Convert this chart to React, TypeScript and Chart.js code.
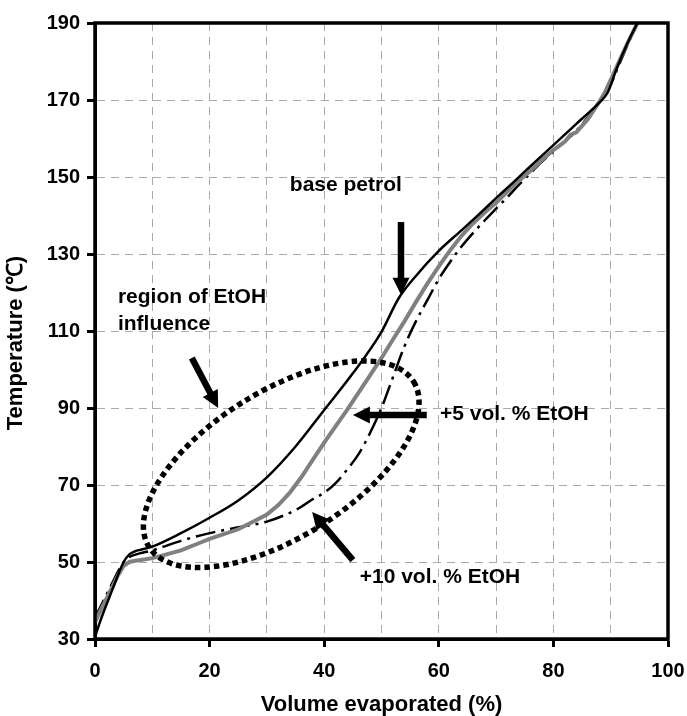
import React, { useEffect, useRef } from "react";
import { Chart, registerables } from "chart.js";

Chart.register(...registerables);

// ---- data ----
const baseVol = [0, 1, 3, 5, 6, 7, 8, 10, 15, 20, 25, 30, 35, 40, 45, 50, 53, 56, 60, 64, 67, 70, 73, 76, 80, 84, 88, 89.5, 91, 93, 95];
const baseTemp = [30.5, 35, 42.7, 50, 52, 52.8, 53.2, 54, 57.5, 61.5, 66, 72, 80, 89.5, 99, 109.8, 118.5, 124.3, 130.8, 136.2, 140.3, 144.5, 148.6, 152.8, 158.3, 163.8, 169.3, 172, 178, 185, 191];

const e5Vol = [0, 1, 2, 3, 4, 5, 6, 7, 8, 10, 12, 15, 18, 20, 25, 28, 30, 32, 34, 36, 38, 40, 42, 44, 46, 48, 50, 52, 54, 56, 58, 60, 62, 64, 66, 68, 70, 72, 74, 76, 78, 80, 82, 83, 84, 86, 88, 89, 91, 93, 95];
const e5Temp = [34.4, 37.5, 40.5, 43.5, 46.5, 49, 50, 50.3, 50.5, 51, 51.8, 53, 54.8, 56, 58.5, 60.8, 62.3, 64.8, 68, 72, 76.5, 81, 85.3, 89.5, 94, 98.5, 103, 107.8, 112.5, 117.5, 122.3, 126.8, 131, 134.8, 138, 140.8, 143.3, 146.2, 149, 151.6, 154.4, 157, 159.2, 161, 161.6, 165, 169.5, 172, 178.5, 185, 191];

const e10Vol = [0, 1, 2, 3, 4, 5, 6, 8, 10, 12, 15, 20, 25, 30, 35, 38, 40, 42, 44, 46, 48, 50, 52, 54, 56, 58, 60, 62, 64, 66, 68, 70, 72, 74, 76, 78, 80, 82, 84, 86, 88, 89, 90, 91, 93, 95];
const e10Temp = [35.5, 38.5, 41.5, 44.5, 47.5, 50, 51.3, 52.3, 53, 54, 55.5, 57.5, 59, 60.5, 63.5, 66.3, 68, 70.5, 74, 78, 83.5, 90, 98, 106, 112.5, 118, 123.5, 128, 132, 135.5, 138.7, 141.8, 144.8, 148, 151, 154, 156.6, 159.2, 162, 165.5, 169.5, 171.5, 174, 177.5, 184.5, 191];

const xTickStep = 10;
const xLabelStep = 20;
const yTicks = [30, 50, 70, 90, 110, 130, 150, 170, 190];

const xTitle = "Volume evaporated (%)";
const yTitle = "Temperature (\u2103)";

// annotation texts anchored in data coordinates (left edge, vertical middle)
const noteTexts = ["base petrol", "region of EtOH", "influence", "+5 vol. % EtOH", "+10 vol. % EtOH"];
const noteX = [34.0, 4.0, 4.0, 60.2, 46.2];
const noteY = [147.9, 118.8, 111.8, 88.4, 46.1];

// arrows (tail -> tip) in data coordinates
const arrowFromX = [53.4, 16.9, 57.9, 45.0];
const arrowFromY = [138.3, 103.0, 88.2, 50.5];
const arrowToX = [53.4, 21.5, 45.0, 37.9];
const arrowToY = [119.4, 90.0, 88.2, 63.0];

// dotted ellipse centre in data coordinates
const ellipseCenter = [32.5, 75.4];

const FONT = '"Liberation Sans", Arial, Helvetica, sans-serif';

function pts(xs: number[], ys: number[]) {
  return xs.map((x, i) => ({ x, y: ys[i] }));
}

const overlayPlugin = {
  id: "overlay",
  afterDatasetsDraw(chart: any) {
    const { ctx, chartArea: a, scales } = chart;
    const xs = scales.x;
    const ys = scales.y;
    const k = (a.right - a.left) / 573;

    // dotted ellipse
    ctx.save();
    ctx.beginPath();
    ctx.rect(a.left, a.top, a.right - a.left, a.bottom - a.top);
    ctx.clip();
    ctx.strokeStyle = "#000";
    ctx.lineWidth = 5.5;
    ctx.setLineDash([5.5, 4]);
    ctx.lineCap = "butt";
    ctx.beginPath();
    ctx.ellipse(
      xs.getPixelForValue(ellipseCenter[0]),
      ys.getPixelForValue(ellipseCenter[1]),
      156 * k,
      73 * k,
      (-32 * Math.PI) / 180,
      0,
      Math.PI * 2
    );
    ctx.stroke();
    ctx.restore();

    // arrows
    ctx.save();
    ctx.fillStyle = "#000";
    ctx.strokeStyle = "#000";
    ctx.setLineDash([]);
    for (let i = 0; i < arrowFromX.length; i++) {
      const x1 = xs.getPixelForValue(arrowFromX[i]);
      const y1 = ys.getPixelForValue(arrowFromY[i]);
      const x2 = xs.getPixelForValue(arrowToX[i]);
      const y2 = ys.getPixelForValue(arrowToY[i]);
      const ang = Math.atan2(y2 - y1, x2 - x1);
      const headLen = 17;
      const headHalf = 8.5;
      const bx = x2 - headLen * Math.cos(ang);
      const by = y2 - headLen * Math.sin(ang);
      ctx.lineWidth = 6.5;
      ctx.lineCap = "butt";
      ctx.beginPath();
      ctx.moveTo(x1, y1);
      ctx.lineTo(bx + 2 * Math.cos(ang), by + 2 * Math.sin(ang));
      ctx.stroke();
      ctx.beginPath();
      ctx.moveTo(x2, y2);
      ctx.lineTo(bx + headHalf * Math.sin(ang), by - headHalf * Math.cos(ang));
      ctx.lineTo(bx - headHalf * Math.sin(ang), by + headHalf * Math.cos(ang));
      ctx.closePath();
      ctx.fill();
    }
    ctx.restore();

    // annotation texts
    ctx.save();
    ctx.fillStyle = "#000";
    ctx.font = `bold 21px ${FONT}`;
    ctx.textAlign = "left";
    ctx.textBaseline = "middle";
    for (let i = 0; i < noteTexts.length; i++) {
      ctx.fillText(noteTexts[i], xs.getPixelForValue(noteX[i]), ys.getPixelForValue(noteY[i]));
    }
    ctx.restore();
  },
  afterDraw(chart: any) {
    const { ctx, chartArea: a } = chart;
    ctx.save();
    ctx.strokeStyle = "#000";
    ctx.lineWidth = 3.5;
    ctx.setLineDash([]);
    ctx.strokeRect(a.left, a.top, a.right - a.left, a.bottom - a.top);
    // axis titles
    ctx.fillStyle = "#000";
    ctx.font = `bold 22px ${FONT}`;
    ctx.textAlign = "center";
    ctx.textBaseline = "middle";
    ctx.fillText(xTitle, (a.left + a.right) / 2, 705);
    ctx.translate(16, (a.top + a.bottom) / 2 + 12);
    ctx.rotate(-Math.PI / 2);
    ctx.fillText(yTitle, 0, 0);
    ctx.restore();
  },
};

export default function App() {
  const ref = useRef<HTMLCanvasElement | null>(null);

  useEffect(() => {
    const canvas = ref.current;
    if (!canvas) return;
    const chart = new Chart(canvas, {
      type: "line",
      data: {
        datasets: [
          {
            label: "base petrol",
            data: pts(baseVol, baseTemp),
            borderColor: "#000",
            borderWidth: 2.5,
            pointRadius: 0,
            cubicInterpolationMode: "monotone",
            fill: false,
          },
          {
            label: "+5 vol. % EtOH",
            data: pts(e5Vol, e5Temp),
            borderColor: "#808080",
            borderWidth: 4,
            pointRadius: 0,
            tension: 0,
            fill: false,
          },
          {
            label: "+5 vol. % EtOH (core)",
            data: pts(e5Vol, e5Temp),
            borderColor: "#c6c6c6",
            borderWidth: 1.8,
            pointRadius: 0,
            tension: 0,
            fill: false,
          },
          {
            label: "+10 vol. % EtOH",
            data: pts(e10Vol, e10Temp),
            borderColor: "#000",
            borderWidth: 2.5,
            borderDash: [20, 6, 3, 6],
            pointRadius: 0,
            cubicInterpolationMode: "monotone",
            fill: false,
          },
        ],
      },
      options: {
        animation: false,
        responsive: false,
        devicePixelRatio: 1,
        layout: { padding: { top: 23, right: 19, left: 0, bottom: 0 } },
        plugins: {
          legend: { display: false },
          tooltip: { enabled: false },
          title: { display: false },
        },
        scales: {
          x: {
            type: "linear",
            min: 0,
            max: 100,
            afterFit: (s: any) => {
              s.height = 77;
            },
            ticks: {
              stepSize: xTickStep,
              autoSkip: false,
              maxRotation: 0,
              padding: 0,
              color: "#000",
              font: { family: FONT, size: 20, weight: "bold", lineHeight: 2.4 },
              callback: (v: any) => (Number(v) % xLabelStep === 0 ? String(v) : ""),
            },
            grid: {
              color: (c: any) =>
                c.tick && (c.tick.value === 0 || c.tick.value === 100) ? "rgba(0,0,0,0)" : "#ababab",
              lineWidth: 1,
              tickColor: (c: any) =>
                c.tick && c.tick.value % xLabelStep === 0 ? "#000" : "rgba(0,0,0,0)",
              tickLength: 8,
              tickWidth: 3,
            },
            border: { display: true, color: "#000", width: 3, dash: [8, 6] },
          },
          y: {
            type: "linear",
            min: 30,
            max: 190,
            afterFit: (s: any) => {
              s.width = 95;
            },
            afterBuildTicks: (s: any) => {
              s.ticks = yTicks.map((v) => ({ value: v }));
            },
            ticks: {
              autoSkip: false,
              padding: 7,
              color: "#000",
              font: { family: FONT, size: 20, weight: "bold" },
            },
            grid: {
              color: (c: any) =>
                c.tick && (c.tick.value === 30 || c.tick.value === 190) ? "rgba(0,0,0,0)" : "#ababab",
              lineWidth: 1,
              tickColor: "#000",
              tickLength: 8,
              tickWidth: 3,
            },
            border: { display: true, color: "#000", width: 3, dash: [8, 6] },
          },
        },
      },
      plugins: [overlayPlugin],
    } as any);
    return () => chart.destroy();
  }, []);

  return (
    <div style={{ position: "fixed", left: 0, top: 0, width: 687, height: 716, background: "#fff" }}>
      <canvas ref={ref} width={687} height={716} style={{ display: "block", width: 687, height: 716 }} />
    </div>
  );
}
